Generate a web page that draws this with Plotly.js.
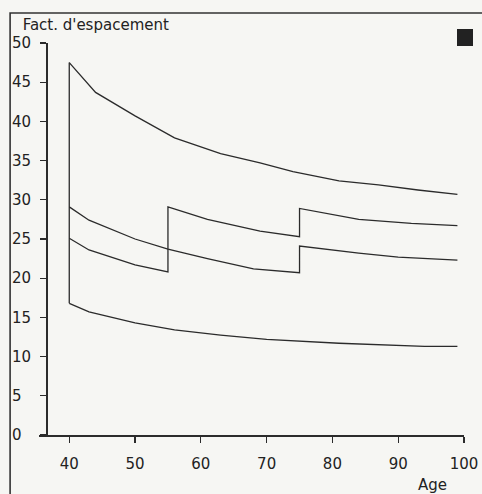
<!DOCTYPE html>
<html>
<head>
<meta charset="utf-8">
<script src="https://cdn.plot.ly/plotly-3.0.1.min.js"></script>
<style>
html,body{margin:0;padding:0;background:#f6f6f3;}
#chart{width:482px;height:494px;}
</style>
</head>
<body>
<div id="chart"></div>
<script>
// ---- data ----
const topAges = [40, 44, 50, 56, 63, 69, 74, 81, 87, 93, 99];
const topVals = [47.5, 43.7, 40.7, 37.9, 35.9, 34.7, 33.6, 32.4, 31.9, 31.25, 30.7];

const midAAges = [40, 43, 50, 55, 61, 68, 75, 75, 84, 90, 99];
const midAVals = [29.1, 27.4, 25.0, 23.7, 22.5, 21.2, 20.7, 24.1, 23.2, 22.7, 22.3];

const midBAges = [40, 43, 50, 55, 55, 61, 69, 75, 75, 84, 92, 99];
const midBVals = [25.1, 23.6, 21.7, 20.8, 29.1, 27.5, 26.0, 25.3, 28.9, 27.5, 27.0, 26.7];

const lowAges = [40, 43, 50, 56, 63, 70, 81, 94, 99];
const lowVals = [16.8, 15.7, 14.3, 13.4, 12.75, 12.2, 11.7, 11.3, 11.3];

const xTickVals = [40, 50, 60, 70, 80, 90, 100];
const yTickVals = [0, 5, 10, 15, 20, 25, 30, 35, 40, 45, 50];
const yTickText = ['0', '5', '10', '15', '20', '25', '30', '35', '40', '45', '50'];

const titleText = "Fact. d'espacement";
const xTitleText = "Age";

// ---- drawing ----
const lineStyle = {color: '#2b2b2b', width: 1.3};
const mk = (x, y) => ({x: x, y: y, mode: 'lines', line: lineStyle, hoverinfo: 'skip', showlegend: false, cliponaxis: false});

const traces = [
  mk([topAges[0], lowAges[0]], [topVals[0], lowVals[0]]),
  mk(topAges, topVals),
  mk(midAAges, midAVals),
  mk(midBAges, midBVals),
  mk(lowAges, lowVals)
];

const FONT = 'DejaVu Sans, sans-serif';
const fig = '#2b2b2b';
const layout = {
  width: 482, height: 494,
  margin: {l: 39, r: 18, t: 43, b: 59},
  paper_bgcolor: '#f6f6f3',
  plot_bgcolor: '#f6f6f3',
  font: {family: FONT, size: 15, color: '#222'},
  showlegend: false,
  title: {text: titleText, x: 0.047, xanchor: 'left', y: 0.949, yanchor: 'middle',
          font: {family: FONT, size: 15, color: '#222'}},
  xaxis: {
    range: [35.4, 100], showgrid: false, zeroline: false,
    showline: true, linecolor: fig, linewidth: 1.5,
    ticks: 'outside', ticklen: 6, tickwidth: 1.2, tickcolor: fig,
    tickvals: xTickVals, ticktext: xTickVals.map(String),
    ticklabelstandoff: 8,
    tickfont: {family: FONT, size: 15, color: '#222'}
  },
  yaxis: {
    range: [0, 50], showgrid: false, zeroline: false,
    anchor: 'free', position: 7 / 425,
    showline: true, linecolor: fig, linewidth: 1.5,
    ticks: 'outside', ticklen: 6, tickwidth: 1.2, tickcolor: fig,
    tickvals: yTickVals,
    ticktext: yTickText.map(t => t.length < 2 ? t + '\u2007' : t),
    ticklabelstandoff: 6,
    tickfont: {family: FONT, size: 15, color: '#222'}
  },
  annotations: [
    {text: xTitleText, xref: 'paper', yref: 'paper', x: 0.925, y: -0.127,
     xanchor: 'center', yanchor: 'middle', showarrow: false,
     font: {family: FONT, size: 15, color: '#222'}}
  ],
  shapes: [
    {type: 'rect', xref: 'paper', yref: 'paper', x0: -0.068, x1: 1.1, y0: -0.3, y1: 1.0765,
     line: {color: '#333', width: 1.6}, fillcolor: 'rgba(0,0,0,0)', layer: 'below'},
    {type: 'rect', xref: 'paper', yref: 'paper', x0: 0.9835, x1: 1.0212, y0: 0.9923, y1: 1.0357,
     line: {color: '#222', width: 0}, fillcolor: '#222'}
  ]
};

Plotly.newPlot('chart', traces, layout, {displayModeBar: false, staticPlot: true});
</script>
</body>
</html>
